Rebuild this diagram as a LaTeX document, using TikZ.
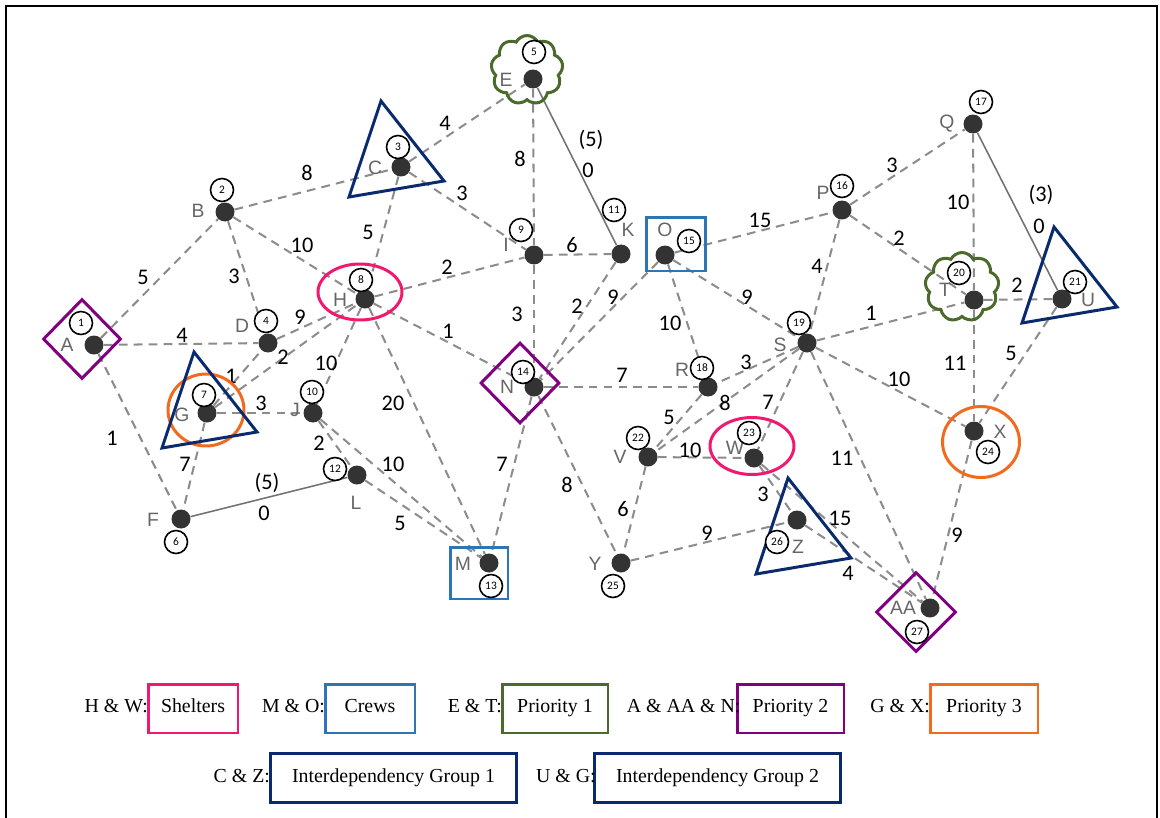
\documentclass[tikz,border=0pt]{standalone}
\usepackage{fontspec}
\setmainfont{Liberation Serif}
\newfontfamily\calibri{Carlito}
\newfontfamily\arialfont{Liberation Sans}
\usetikzlibrary{shapes.geometric,shapes.symbols,positioning,backgrounds}

\definecolor{shelter}{HTML}{F0196E}
\definecolor{crew}{HTML}{2E75B6}
\definecolor{prioA}{HTML}{4B6A2C}
\definecolor{prioB}{HTML}{800080}
\definecolor{prioC}{HTML}{F26A1E}
\definecolor{navy}{HTML}{0A2A6E}

\tikzset{
  stn/.style={circle,fill=black!80,inner sep=0pt,minimum size=0.38cm},
  tag/.style={font=\arialfont\fontsize{11}{12}\selectfont,text=black!60,inner sep=0pt},
  num/.style={circle,draw,line width=0.9pt,fill=white,inner sep=0pt,minimum size=0.46cm,font=\calibri\fontsize{6.5}{7}\selectfont},
  road/.style={draw=black!45,line width=1.15pt,dash pattern=on 5pt off 3.5pt},
  link/.style={draw=black!55,line width=0.9pt},
  wt/.style={font=\calibri\fontsize{12.7}{14}\selectfont,inner sep=0pt},
  zone/.style={draw,line width=1.7pt,inner sep=0pt},
  puff/.style={zone,draw=prioA,cloud,cloud puffs=9,cloud puff arc=125,aspect=1},
  grp/.style={draw=navy,line width=1.7pt},
  key/.style={draw,line width=1.7pt,minimum height=0.98cm,inner sep=0pt,text height=1.6ex,text depth=0.5ex,font=\fontsize{11.3}{13}\selectfont},
  keytxt/.style={inner sep=0pt,text height=1.6ex,text depth=0.5ex,font=\fontsize{11.3}{13}\selectfont}
}

\begin{document}
\begin{tikzpicture}[x=0.02cm,y=-0.02cm]
\useasboundingbox (0,0) rectangle (1160,818);
\draw[line width=1.2pt] (6,818) -- (6,6) -- (1157,6) -- (1157,818);

% marker shapes
\node[zone,draw=prioB,diamond,minimum width=1.56cm,minimum height=1.6cm] (zA) at (82,339) {};
\node[zone,draw=prioB,diamond,minimum width=1.58cm,minimum height=1.62cm] (zN) at (520,383) {};
\node[zone,draw=prioB,diamond,minimum width=1.6cm,minimum height=1.6cm] (zAA) at (916,612) {};
\node[puff,minimum width=1.44cm,minimum height=1.38cm] (zE) at (527,70) {};
\node[puff,minimum width=1.48cm,minimum height=1.38cm] (zT) at (962,287) {};
\node[zone,draw=shelter,ellipse,minimum width=1.68cm,minimum height=1.12cm] (zH) at (360,292) {};
\node[zone,draw=shelter,ellipse,minimum width=1.68cm,minimum height=1.14cm] (zW) at (752,446) {};
\node[zone,draw=prioC,ellipse,minimum width=1.52cm,minimum height=1.44cm] (zG) at (206,410) {};
\node[zone,draw=prioC,ellipse,minimum width=1.54cm,minimum height=1.42cm] (zX) at (981,442) {};
\node[zone,draw=crew,minimum width=1.18cm,minimum height=1.08cm] (zO) at (676,244) {};
\node[zone,draw=crew,minimum width=1.16cm,minimum height=1.04cm] (zM) at (479,573) {};
\draw[grp] (381,101) -- ++(63,80) -- ++(-95,16) -- cycle;
\draw[grp] (194,352) -- ++(63,80) -- ++(-95,16) -- cycle;
\draw[grp] (788,478) -- ++(63,80) -- ++(-95,16) -- cycle;
\draw[grp] (1054,227) -- ++(63,80) -- ++(-95,16) -- cycle;

% stations
\node[stn] (A) at (94,345) {};   \node[tag] (tA) at (67,345) {A};   \node[num] (nA) at (81,323) {1};
\node[stn] (B) at (225,212) {};  \node[tag] (tB) at (198,211) {B};  \node[num] (nB) at (222,190) {2};
\node[stn] (C) at (401,167) {};  \node[tag] (tC) at (375,168) {C};  \node[num] (nC) at (398,147) {3};
\node[stn] (D) at (268,343) {};  \node[tag] (tD) at (242,326) {D};  \node[num] (nD) at (266,321) {4};
\node[stn] (E) at (533,79) {};   \node[tag] (tE) at (506,80) {E};   \node[num] (nE) at (534,52) {5};
\node[stn] (F) at (181,519) {};  \node[tag] (tF) at (153,520) {F};  \node[num] (nF) at (176,542) {6};
\node[stn] (G) at (207,413) {};  \node[tag] (tG) at (182,415) {G};  \node[num] (nG) at (204,395) {7};
\node[stn] (H) at (365,299) {};  \node[tag] (tH) at (340,300) {H};  \node[num] (nH) at (361,280) {8};
\node[stn] (I) at (534,255) {};  \node[tag] (tI) at (506,245) {I};  \node[num] (nI) at (521,230) {9};
\node[stn] (J) at (313,413) {};  \node[tag] (tJ) at (295,410) {J};  \node[num] (nJ) at (312,392) {10};
\node[stn] (K) at (621,254) {};  \node[tag] (tK) at (628,230) {K};  \node[num] (nK) at (614,210) {11};
\node[stn] (L) at (357,475) {};  \node[tag] (tL) at (356,503) {L};  \node[num] (nL) at (335,469) {12};
\node[stn] (M) at (489,563) {};  \node[tag] (tM) at (463,564) {M};  \node[num] (nM) at (491,586) {13};
\node[stn] (N) at (534,387) {};  \node[tag] (tN) at (507,387) {N};  \node[num] (nN) at (523,372) {14};
\node[stn] (O) at (665,255) {};  \node[tag] (tO) at (665,230) {O};  \node[num] (nO) at (689,241) {15};
\node[stn] (P) at (842,210) {};  \node[tag] (tP) at (823,193) {P};  \node[num] (nP) at (842,186) {16};
\node[stn] (Q) at (973,124) {};  \node[tag] (tQ) at (947,124) {Q};  \node[num] (nQ) at (981,102) {17};
\node[stn] (R) at (708,387) {};  \node[tag] (tR) at (682,370) {R};  \node[num] (nR) at (702,368) {18};
\node[stn] (S) at (807,343) {};  \node[tag] (tS) at (780,345) {S};  \node[num] (nS) at (799,323) {19};
\node[stn] (T) at (974,300) {};  \node[tag] (tT) at (945,290) {T};  \node[num] (nT) at (959,273) {20};
\node[stn] (U) at (1062,299) {}; \node[tag] (tU) at (1088,300) {U}; \node[num] (nU) at (1075,282) {21};
\node[stn] (V) at (648,457) {};  \node[tag] (tV) at (620,457) {V};  \node[num] (nV) at (638,438) {22};
\node[stn] (W) at (754,458) {};  \node[tag] (tW) at (735,448) {W};  \node[num] (nW) at (749,433) {23};
\node[stn] (X) at (974,431) {};  \node[tag] (tX) at (1000,432) {X}; \node[num] (nX) at (988,452) {24};
\node[stn] (Y) at (621,563) {};  \node[tag] (tY) at (595,564) {Y};  \node[num] (nY) at (613,586) {25};
\node[stn] (Z) at (797,520) {};  \node[tag] (tZ) at (798,547) {Z};  \node[num] (nZ) at (777,542) {26};
\node[stn] (AA) at (930,608) {}; \node[tag] (tAA) at (903,608) {AA}; \node[num] (nAA) at (917,632) {27};

% roads
\begin{scope}[on background layer]
\draw[road] (A) -- (B) node[wt] (wAB) at (143,277) {5};
\draw[road] (A) -- (D) node[wt] (wAD) at (182,335) {4};
\draw[road] (A) -- (F) node[wt] (wAF) at (112,438) {1};
\draw[road] (B) -- (C) node[wt] (wBC) at (307,173) {8};
\draw[road] (B) -- (D) node[wt] (wBD) at (234,276) {3};
\draw[road] (B) -- (H) node[wt] (wBH) at (302,245) {10};
\draw[road] (C) -- (E) node[wt] (wCE) at (445,123) {4};
\draw[road] (C) -- (I) node[wt] (wCI) at (462,193) {3};
\draw[road] (C) -- (H) node[wt] (wCH) at (368,232) {5};
\draw[road] (E) -- (I) node[wt] (wEI) at (520,159) {8};
\draw[road] (I) -- (N) node[wt] (wIN) at (517,314) {3};
\draw[road] (H) -- (I) node[wt] (wHI) at (447,267) {2};
\draw[road] (I) -- (K) node[wt] (wIK) at (572,245) {6};
\draw[road] (D) -- (H) node[wt] (wDH) at (300,317) {9};
\draw[road] (G) -- (D) node[wt] (wGD) at (231,376) {1};
\draw[road] (G) -- (H) node[wt] (wGH) at (283,357) {2};
\draw[road] (G) -- (J) node[wt] (wGJ) at (261,403) {3};
\draw[road] (G) -- (F) node[wt] (wGF) at (185,464) {7};
\draw[road] (H) -- (J) node[wt] (wHJ) at (326,363) {10};
\draw[road] (H) -- (N) node[wt] (wHN) at (448,331) {1};
\draw[road] (H) -- (M) node[wt] (wHM) at (393,403) {20};
\draw[road] (J) -- (L) node[wt] (wJL) at (319,443) {2};
\draw[road] (J) -- (M) node[wt] (wJM) at (393,464) {10};
\draw[road] (L) -- (M) node[wt] (wLM) at (400,523) {5};
\draw[road] (K) -- (N) node[wt] (wKN) at (577,306) {2};
\draw[road] (O) -- (N) node[wt] (wON) at (613,297) {9};
\draw[road] (N) -- (R) node[wt] (wNR) at (622,375) {7};
\draw[road] (N) -- (M) node[wt] (wNM) at (502,464) {7};
\draw[road] (N) -- (Y) node[wt] (wNY) at (567,485) {8};
\draw[road] (O) -- (P) node[wt] (wOP) at (760,220) {15};
\draw[road] (O) -- (R) node[wt] (wOR) at (670,323) {10};
\draw[road] (O) -- (S) node[wt] (wOS) at (747,297) {9};
\draw[road] (P) -- (Q) node[wt] (wPQ) at (892,165) {3};
\draw[road] (P) -- (S) node[wt] (wPS) at (817,266) {4};
\draw[road] (P) -- (T) node[wt] (wPT) at (899,238) {2};
\draw[road] (Q) -- (T) node[wt] (wQT) at (958,202) {10};
\draw[road] (T) -- (U) node[wt] (wTU) at (1017,285) {2};
\draw[road] (T) -- (X) node[wt] (wTX) at (955,363) {11};
\draw[road] (U) -- (X) node[wt] (wUX) at (1011,353) {5};
\draw[road] (S) -- (T) node[wt] (wST) at (871,313) {1};
\draw[road] (S) -- (X) node[wt] (wSX) at (899,379) {10};
\draw[road] (S) -- (AA) node[wt] (wSAA) at (842,458) {11};
\draw[road] (S) -- (R) node[wt] (wSR) at (746,362) {3};
\draw[road] (R) -- (V) node[wt] (wRV) at (669,417) {5};
\draw[road] (S) -- (V) node[wt] (wSV) at (725,403) {8};
\draw[road] (S) -- (W) node[wt] (wSW) at (768,402) {7};
\draw[road] (V) -- (W) node[wt] (wVW) at (690,450) {10};
\draw[road] (V) -- (Y) node[wt] (wVY) at (623,509) {6};
\draw[road] (Y) -- (Z) node[wt] (wYZ) at (707,533) {9};
\draw[road] (W) -- (Z) node[wt] (wWZ) at (763,494) {3};
\draw[road] (W) -- (AA) node[wt] (wWAA) at (840,518) {15};
\draw[road] (Z) -- (AA) node[wt] (wZAA) at (848,573) {4};
\draw[road] (X) -- (AA) node[wt] (wXAA) at (957,535) {9};
% zero-cost links
\draw[link] (E) -- (K) node[wt] (wEK) at (591,140) {(5)} node[wt] (wEKz) at (588,170) {0};
\draw[link] (F) -- (L) node[wt] (wFL) at (267,483) {(5)} node[wt] (wFLz) at (264,513) {0};
\draw[link] (Q) -- (U) node[wt] (wQU) at (1041,195) {(3)} node[wt] (wQUz) at (1039,226) {0};
\end{scope}

% legend
\node[key,draw=shelter,minimum width=1.8cm] (kShel) at (193,708.5) {Shelters};
\node[keytxt,left=-1pt of kShel] (lShel) {H \& W:};
\node[key,draw=crew,minimum width=1.8cm] (kCrew) at (370,708.5) {Crews};
\node[keytxt,left=-1pt of kCrew] (lCrew) {M \& O:};
\node[key,draw=prioA,minimum width=2.12cm] (kPA) at (555,708.5) {Priority 1};
\node[keytxt,left=-1pt of kPA] (lPA) {E \& T:};
\node[key,draw=prioB,minimum width=2.14cm] (kPB) at (790.5,708.5) {Priority 2};
\node[keytxt,left=-3pt of kPB] (lPB) {A \& AA \& N:};
\node[key,draw=prioC,minimum width=2.16cm] (kPC) at (984,708.5) {Priority 3};
\node[keytxt,left=-1pt of kPC] (lPC) {G \& X:};
\node[key,draw=navy,minimum width=4.94cm] (kGA) at (393.5,778) {Interdependency Group 1};
\node[keytxt,left=-1pt of kGA] (lGA) {C \& Z:};
\node[key,draw=navy,minimum width=4.94cm] (kGB) at (717.5,778) {Interdependency Group 2};
\node[keytxt,left=-2pt of kGB] (lGB) {U \& G:};
\end{tikzpicture}
\end{document}
